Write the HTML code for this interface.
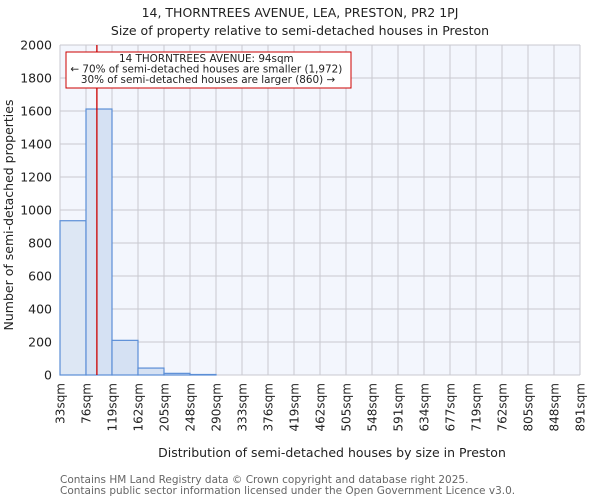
<!DOCTYPE html>
<html><head><meta charset="utf-8"><style>
body{margin:0;background:#fff;font-family:"DejaVu Sans","Liberation Sans",sans-serif}
text{font-family:"DejaVu Sans","Liberation Sans",sans-serif}
</style></head><body>
<svg id="chart" width="600" height="500" viewBox="0 0 600 500" xmlns="http://www.w3.org/2000/svg">
<rect width="600" height="500" fill="#fff"/>
<text x="300" y="17" text-anchor="middle" font-size="12.5" fill="#222">14, THORNTREES AVENUE, LEA, PRESTON, PR2 1PJ</text>
<text x="300" y="35" text-anchor="middle" font-size="12.5" fill="#222">Size of property relative to semi-detached houses in Preston</text>
<rect x="60" y="45" width="520" height="330" fill="#f3f6fd"/>
<g id="grid"></g><g id="bars"></g><g id="yticks"></g><g id="xticks"></g>
<text transform="translate(13,215) rotate(-90)" text-anchor="middle" font-size="12.5" fill="#222">Number of semi-detached properties</text>
<text x="332" y="457" text-anchor="middle" font-size="12.5" fill="#222">Distribution of semi-detached houses by size in Preston</text>
<text x="60" y="483" font-size="10.5" fill="#666">Contains HM Land Registry data © Crown copyright and database right 2025.</text>
<text x="60" y="494" font-size="10.5" fill="#666">Contains public sector information licensed under the Open Government Licence v3.0.</text>
<line id="marker" stroke="#cc0000" stroke-width="1.3"/>
<rect x="66" y="52" width="285" height="36" fill="#fff" stroke="#cc0000" stroke-width="1"/>
<text x="208" y="62" text-anchor="middle" font-size="10.4" fill="#222">
<tspan x="208">14 THORNTREES AVENUE: 94sqm</tspan>
<tspan x="208" dy="10.5">← 70% of semi-detached houses are smaller (1,972)</tspan>
<tspan x="208" dy="10.5">30% of semi-detached houses are larger (860) →</tspan></text>
</svg>
<script>
const binEdges=[33,76,119,162,205,248,290,333,376,419,462,505,548,591,634,677,719,762,805,848,891];
const counts=[935,1612,210,42,10,3,0,0,0,0,0,0,0,0,0,0,0,0,0,0];
const yTicks=[0,200,400,600,800,1000,1200,1400,1600,1800,2000];
const propertySize=94;
const NS="http://www.w3.org/2000/svg";
const X0=60,X1=580,Y0=375,Y1=45,YMAX=2000;
const bw=(X1-X0)/counts.length;
function xi(i){return X0+i*bw;}
function xv(v){for(let i=0;i<binEdges.length-1;i++){if(v<=binEdges[i+1])return xi(i)+(v-binEdges[i])/(binEdges[i+1]-binEdges[i])*bw;}return X1;}
function y(v){return Y0-(v/YMAX)*(Y0-Y1);}
function mk(t,a,p){const e=document.createElementNS(NS,t);for(const k in a)e.setAttribute(k,a[k]);p.appendChild(e);return e;}
const grid=document.getElementById('grid'),bars=document.getElementById('bars'),yt=document.getElementById('yticks'),xt=document.getElementById('xticks');
yTicks.forEach(v=>{
  const l=mk('line',{x1:X0,x2:X1,y1:y(v),y2:y(v),stroke:'#c8c8d0','stroke-width':1},grid);
  
  
  const t=mk('text',{x:52,y:y(v)+4.5,'text-anchor':'end','font-size':12.5,fill:'#222'},yt);
  t.textContent=v;
  
  
});
binEdges.forEach((e,i)=>{
  const l=mk('line',{x1:xi(i),x2:xi(i),y1:Y1,y2:Y0,stroke:'#c8c8d0','stroke-width':1},grid);
  
  
  const t=mk('text',{transform:`translate(${xi(i)+4.5},383) rotate(-90)`,'text-anchor':'end','font-size':12,fill:'#222'},xt);
  t.textContent=e+'sqm';
  
  
});
counts.forEach((c,i)=>{
  if(c<=0)return;
  const r=mk('rect',{x:xi(i),y:y(c),width:bw,height:Y0-y(c),fill:i==0?'#dde7f4':'#d5e1f3',stroke:'#5b8ed6','stroke-width':1.2},bars);
  
  
});
const m=document.getElementById('marker');
m.setAttribute('x1',xv(propertySize));m.setAttribute('x2',xv(propertySize));
m.setAttribute('y1',Y1);m.setAttribute('y2',Y0);
</script>
</body></html>
